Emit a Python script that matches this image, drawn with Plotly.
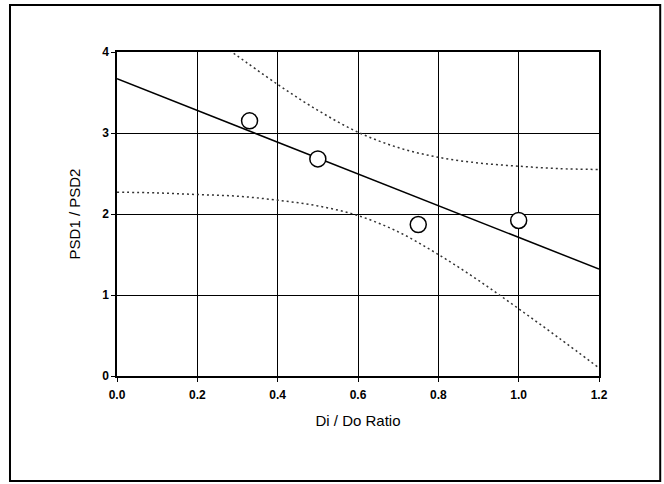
import plotly.graph_objects as go

# Observed data points
di_do = [0.33, 0.50, 0.75, 1.00]
psd_ratio = [3.15, 2.68, 1.87, 1.92]

# Regression line (read endpoints)
fit_x = [0.0, 1.2]
fit_y = [3.67, 1.32]

# Confidence band curves
band_x = [0.28, 0.3, 0.4, 0.5, 0.6, 0.7, 0.8, 0.9, 1.0, 1.1, 1.2]
upper_y = [4.02, 3.95, 3.60, 3.28, 3.01, 2.82, 2.70, 2.63, 2.59, 2.56, 2.55]
lower_x = [0.0, 0.1, 0.2, 0.3, 0.4, 0.5, 0.6, 0.7, 0.8, 0.9, 1.0, 1.1, 1.2]
lower_y = [2.27, 2.26, 2.24, 2.22, 2.17, 2.10, 1.98, 1.78, 1.50, 1.18, 0.83, 0.47, 0.10]

x_ticks = [0.0, 0.2, 0.4, 0.6, 0.8, 1.0, 1.2]
x_labels = ["0.0", "0.2", "0.4", "0.6", "0.8", "1.0", "1.2"]
y_ticks = [0, 1, 2, 3, 4]

dot_style = dict(color="#333", width=1.5, dash="2px,3px", shape="spline")

fig = go.Figure()
fig.add_trace(go.Scatter(x=band_x, y=upper_y, mode="lines", line=dot_style, hoverinfo="skip"))
fig.add_trace(go.Scatter(x=lower_x, y=lower_y, mode="lines", line=dot_style, hoverinfo="skip"))
fig.add_trace(go.Scatter(x=fit_x, y=fit_y, mode="lines", line=dict(color="black", width=1.5)))
fig.add_trace(go.Scatter(x=di_do, y=psd_ratio, mode="markers",
                         marker=dict(symbol="circle", size=16, color="white", line=dict(color="black", width=1.5))))

font_family = "Liberation Sans, Arial, sans-serif"
fig.update_layout(
    width=664, height=484,
    margin=dict(l=117, r=65, t=52, b=108),
    paper_bgcolor="white", plot_bgcolor="white",
    showlegend=False,
    font=dict(family=font_family, color="black"),
    xaxis=dict(range=[0, 1.2], tickvals=x_ticks, ticktext=x_labels,
               showgrid=True, gridcolor="black", gridwidth=1,
               showline=True, linecolor="black", linewidth=1.5, mirror=True,
               ticks="outside", ticklen=4, tickcolor="black", ticklabelstandoff=3,
               tickfont=dict(size=12, weight="bold", family=font_family),
               zeroline=False,
               title=dict(text="Di / Do Ratio", font=dict(size=15, family=font_family), standoff=14)),
    yaxis=dict(range=[0, 4], tickvals=y_ticks,
               showgrid=True, gridcolor="black", gridwidth=1,
               showline=True, linecolor="black", linewidth=1.5, mirror=True,
               ticks="outside", ticklen=4, tickcolor="black",
               tickfont=dict(size=12, weight="bold", family=font_family),
               zeroline=False,
               title=dict(text="PSD1 / PSD2", font=dict(size=15, family=font_family), standoff=18)),
    shapes=[dict(type="rect", xref="paper", yref="paper",
                 x0=-0.222, x1=1.127, y0=-0.324, y1=1.145,
                 line=dict(color="black", width=2), fillcolor="rgba(0,0,0,0)", layer="below")],
)

fig.write_html("out.html")
